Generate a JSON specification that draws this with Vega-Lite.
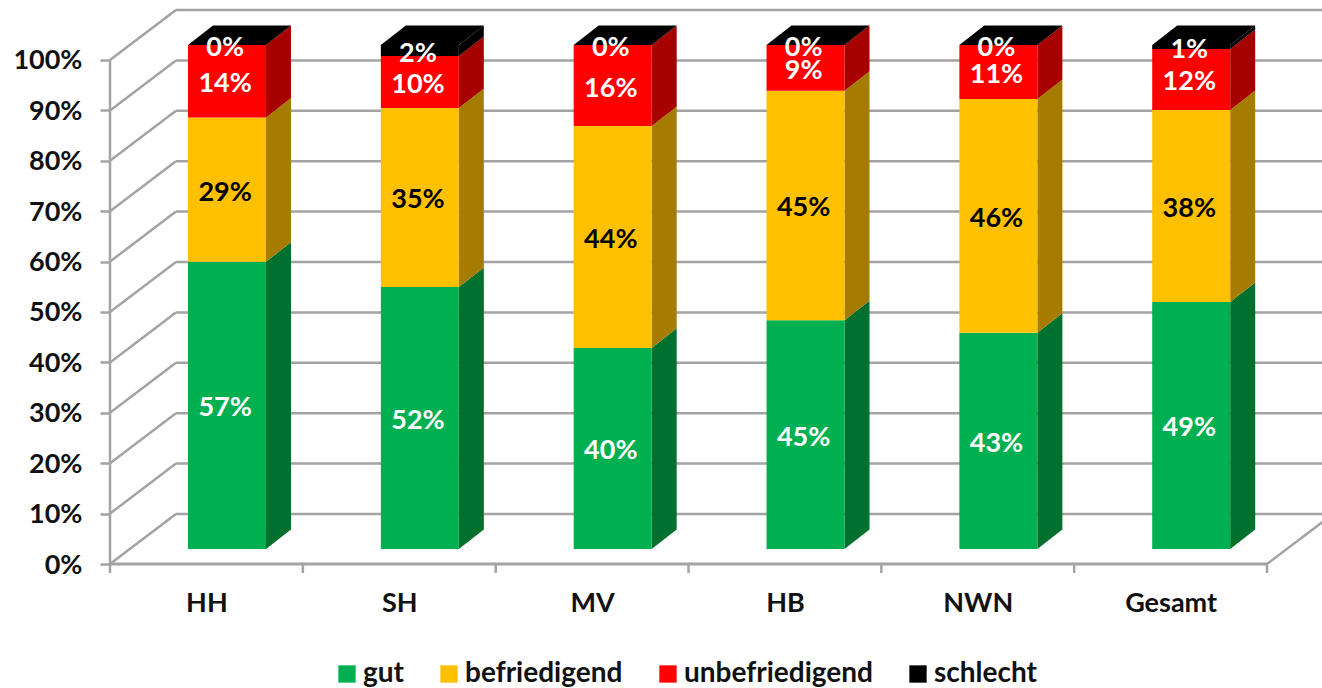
{
"$schema":"https://vega.github.io/schema/vega-lite/v6.json",
"width":1212,"height":564,
"autosize":{"type":"none"},
"padding":{"left":110,"top":0,"right":0,"bottom":124},
"background":"white",
"config":{"view":{"stroke":null},"text":{"font":"Lato"}},
"datasets":{
"levels":[{"level":0},{"level":10},{"level":20},{"level":30},{"level":40},{"level":50},{"level":60},{"level":70},{"level":80},{"level":90},{"level":100}],
"ticks":[{"t":0},{"t":1},{"t":2},{"t":3},{"t":4},{"t":5},{"t":6}],
"segments":[
{"region":"HH","i":0,"status":"gut","order":1,"value":57,"label":"57%"},
{"region":"HH","i":0,"status":"befriedigend","order":2,"value":28.6,"label":"29%"},
{"region":"HH","i":0,"status":"unbefriedigend","order":3,"value":14.4,"label":"14%"},
{"region":"HH","i":0,"status":"schlecht","order":4,"value":0,"label":"0%"},
{"region":"SH","i":1,"status":"gut","order":1,"value":52,"label":"52%"},
{"region":"SH","i":1,"status":"befriedigend","order":2,"value":35.5,"label":"35%"},
{"region":"SH","i":1,"status":"unbefriedigend","order":3,"value":10.3,"label":"10%"},
{"region":"SH","i":1,"status":"schlecht","order":4,"value":2.2,"label":"2%"},
{"region":"MV","i":2,"status":"gut","order":1,"value":39.9,"label":"40%"},
{"region":"MV","i":2,"status":"befriedigend","order":2,"value":44,"label":"44%"},
{"region":"MV","i":2,"status":"unbefriedigend","order":3,"value":16.1,"label":"16%"},
{"region":"MV","i":2,"status":"schlecht","order":4,"value":0,"label":"0%"},
{"region":"HB","i":3,"status":"gut","order":1,"value":45.4,"label":"45%"},
{"region":"HB","i":3,"status":"befriedigend","order":2,"value":45.5,"label":"45%"},
{"region":"HB","i":3,"status":"unbefriedigend","order":3,"value":9.1,"label":"9%"},
{"region":"HB","i":3,"status":"schlecht","order":4,"value":0,"label":"0%"},
{"region":"NWN","i":4,"status":"gut","order":1,"value":42.9,"label":"43%"},
{"region":"NWN","i":4,"status":"befriedigend","order":2,"value":46.4,"label":"46%"},
{"region":"NWN","i":4,"status":"unbefriedigend","order":3,"value":10.7,"label":"11%"},
{"region":"NWN","i":4,"status":"schlecht","order":4,"value":0,"label":"0%"},
{"region":"Gesamt","i":5,"status":"gut","order":1,"value":49,"label":"49%"},
{"region":"Gesamt","i":5,"status":"befriedigend","order":2,"value":38.1,"label":"38%"},
{"region":"Gesamt","i":5,"status":"unbefriedigend","order":3,"value":12.1,"label":"12%"},
{"region":"Gesamt","i":5,"status":"schlecht","order":4,"value":0.8,"label":"1%"}
]},
"data":{"name":"segments"},
"transform":[
{"stack":"value","groupby":["region"],"sort":[{"field":"order","order":"ascending"}],"as":["y0","y1"]},
{"calculate":"datum.i+0.4045","as":"xl"},
{"calculate":"datum.i+0.809","as":"xr"},
{"calculate":"datum.y0+2.98","as":"b"},
{"calculate":"datum.y1+2.98","as":"t"},
{"calculate":"datum.i+0.597","as":"xm"},
{"calculate":"(datum.b+datum.t)/2","as":"ym"}
],
"layer":[
{"data":{"name":"levels"},"transform":[{"calculate":"datum.level+9.92","as":"back"},{"calculate":"0.342","as":"bx"},{"calculate":"6.29","as":"ex"}],
 "mark":{"type":"rule","color":"#a3a3a3","strokeWidth":2.5},
 "encoding":{"x":{"field":"bx","type":"quantitative","scale":{"domain":[0,6.285],"nice":false,"zero":false},"axis":{"values":[0.5,1.5,2.5,3.5,4.5,5.5],"labelExpr":"['HH','SH','MV','HB','NWN','Gesamt'][floor(datum.value)]","domain":false,"ticks":false,"grid":false,"title":null,"labelFont":"Lato","labelFontWeight":"bold","labelFontSize":27,"labelColor":"#111111","labelPadding":26}},
 "x2":{"field":"ex"},
 "y":{"field":"back","type":"quantitative","scale":{"domain":[0,111.9],"nice":false,"zero":false},"axis":{"values":[0,10,20,30,40,50,60,70,80,90,100],"labelExpr":"datum.value+'%'","domain":false,"grid":false,"title":null,"tickColor":"#a3a3a3","tickWidth":2.5,"tickSize":10,"labelFont":"Lato","labelFontWeight":"bold","labelFontSize":27,"labelColor":"#111111","labelPadding":18,"labelOffset":1}}}},
{"data":{"name":"levels"},"transform":[{"calculate":"datum.level+9.92","as":"back"},{"calculate":"0","as":"x0"},{"calculate":"0.342","as":"bx"}],
 "mark":{"type":"rule","color":"#a3a3a3","strokeWidth":2.5},
 "encoding":{"x":{"field":"x0","type":"quantitative"},"x2":{"field":"bx"},"y":{"field":"level","type":"quantitative"},"y2":{"field":"back"}}},
{"data":{"values":[{"x0":0,"lo":0,"hi":100}]},
 "mark":{"type":"rule","color":"#a3a3a3","strokeWidth":2.5},
 "encoding":{"x":{"field":"x0","type":"quantitative"},"y":{"field":"lo","type":"quantitative"},"y2":{"field":"hi"}}},
{"data":{"values":[{"a":0,"b":6,"lvl":0}]},
 "mark":{"type":"rule","color":"#a3a3a3","strokeWidth":3},
 "encoding":{"x":{"field":"a","type":"quantitative"},"x2":{"field":"b"},"y":{"field":"lvl","type":"quantitative"}}},
{"data":{"values":[{"a":6,"b":6.342,"lo":0,"hi":9.92}]},
 "mark":{"type":"rule","color":"#a3a3a3","strokeWidth":2.5,"clip":true},
 "encoding":{"x":{"field":"a","type":"quantitative"},"x2":{"field":"b"},"y":{"field":"lo","type":"quantitative"},"y2":{"field":"hi"}}},
{"data":{"name":"ticks"},"transform":[{"calculate":"0","as":"top"},{"calculate":"-1.8","as":"bot"}],
 "mark":{"type":"rule","color":"#a3a3a3","strokeWidth":2.5},
 "encoding":{"x":{"field":"t","type":"quantitative"},"y":{"field":"top","type":"quantitative"},"y2":{"field":"bot"}}},
{"transform":[{"calculate":"[0,1]","as":"p"},{"flatten":["p"]},{"calculate":"datum.xr+datum.p*0.1296","as":"sx"},{"calculate":"datum.t+datum.p*3.87","as":"st"},{"calculate":"datum.b+datum.p*3.87","as":"sb"}],
 "mark":{"type":"area","opacity":1},
 "encoding":{"x":{"field":"sx","type":"quantitative"},"y":{"field":"st","type":"quantitative"},"y2":{"field":"sb"},"detail":{"field":"region"},
 "color":{"field":"status","type":"nominal","scale":{"domain":["gut","befriedigend","unbefriedigend","schlecht"],"range":["#00702F","#A67C00","#A60000","#000000"]},"legend":null}}},
{"transform":[{"filter":"datum.status==='schlecht'"},{"calculate":"[0,1,2,3]","as":"p"},{"flatten":["p"]},
 {"calculate":"datum.p==0?datum.xl:datum.p==1?datum.xl+0.1296:datum.p==2?datum.xr:datum.xr+0.1296","as":"tx"},
 {"calculate":"datum.p==0?datum.t:datum.t+3.87","as":"ty"},
 {"calculate":"datum.p==3?datum.t+3.87:datum.t","as":"ty2"}],
 "mark":{"type":"area","color":"#000000","opacity":1},
 "encoding":{"x":{"field":"tx","type":"quantitative"},"y":{"field":"ty","type":"quantitative"},"y2":{"field":"ty2"},"detail":{"field":"region"}}},
{"mark":{"type":"rect"},
 "encoding":{"x":{"field":"xl","type":"quantitative"},"x2":{"field":"xr"},"y":{"field":"b","type":"quantitative"},"y2":{"field":"t"},
 "color":{"field":"status","type":"nominal","scale":{"domain":["gut","befriedigend","unbefriedigend","schlecht"],"range":["#00B050","#FFC000","#FF0000","#000000"]},
 "legend":{"title":null,"orient":"none","legendX":223,"legendY":660,"direction":"horizontal","symbolType":"square","symbolSize":300,"symbolStrokeWidth":0,"symbolOpacity":1,"labelFont":"Lato","labelFontWeight":"bold","labelFontSize":28,"labelColor":"#111111","labelOffset":2,"columnPadding":31,"labelLimit":300}}}},
{"mark":{"type":"text","fontWeight":"bold","fontSize":27,"font":"Lato","baseline":"middle","align":"center","dy":3},
 "encoding":{"x":{"field":"xm","type":"quantitative"},"y":{"field":"ym","type":"quantitative"},"text":{"field":"label"},
 "color":{"condition":{"test":"datum.status==='befriedigend'","value":"#000000"},"value":"#ffffff"}}}
],
"resolve":{"scale":{"color":"independent"}}
}
